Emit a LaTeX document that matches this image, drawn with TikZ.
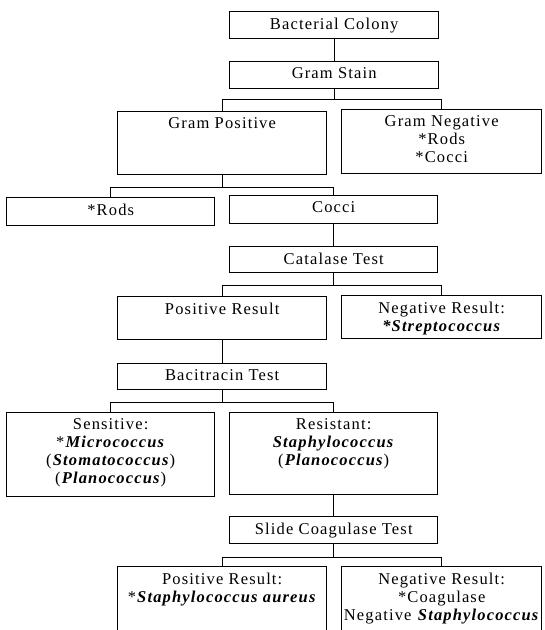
\documentclass[tikz,border=0pt]{standalone}
\usepackage{fontspec}
\setmainfont[LetterSpace=7]{Liberation Serif}
\newcommand\bxt[3]{\begin{minipage}[t][#2pt][t]{#1pt}\centering\vspace*{6pt}#3\end{minipage}}
\newcommand\gen[1]{\textbf{\textit{#1}}}
\newcommand\nl{\par}
\tikzset{
  bx/.style={draw, line width=1.4pt, inner sep=0pt, anchor=north west},
  ln/.style={draw, line width=1.4pt},
}
\begin{document}
\begin{tikzpicture}[x=1pt, y=-1pt, font=\fontsize{16.5}{18}\selectfont]
\useasboundingbox (0,0) rectangle (545,630);
\clip (0,0) rectangle (545,630);
\fill[white] (0,0) rectangle (545,630);
% boxes
\node[bx] (bc) at (229,11) {\bxt{209}{27}{Bacterial Colony}};
\node[bx] (gs) at (229,61) {\bxt{209}{27}{Gram Stain}};
\node[bx] (gp) at (117,111) {\bxt{209}{63}{Gram Positive}};
\node[bx] (gn) at (341,109) {\bxt{200}{64}{Gram Negative\nl *Rods\nl *Cocci}};
\node[bx] (rods) at (6,197) {\bxt{208}{28}{*Rods}};
\node[bx] (cocci) at (229,195) {\bxt{208}{28}{Cocci}};
\node[bx] (cat) at (229,246) {\bxt{208}{26}{Catalase Test}};
\node[bx] (pos) at (117,296) {\bxt{209}{43}{Positive Result}};
\node[bx] (neg) at (341,295) {\bxt{200}{43}{Negative Result:\nl \gen{*Streptococcus}}};
\node[bx] (bac) at (117,363) {\bxt{209}{26}{Bacitracin Test}};
\node[bx] (sens) at (6,412) {\bxt{208}{84}{Sensitive:\nl *\gen{Micrococcus}\nl (\gen{Stomatococcus})\nl (\gen{Planococcus})}};
\node[bx] (res) at (229,412) {\bxt{208}{82}{Resistant:\nl \gen{Staphylococcus}\nl (\gen{Planococcus})}};
\node[bx] (slide) at (229,516) {\bxt{208}{27}{Slide Coagulase Test}};
\node[bx] (spos) at (117,566) {\bxt{209}{90}{Positive Result:\nl *\gen{Staphylococcus aureus}}};
\node[bx] (sneg) at (341,566) {\bxt{200}{90}{Negative Result:\nl *Coagulase\nl Negative \gen{Staphylococcus}}};
% branch points
\path (gs.south) ++(0,10) coordinate (b1);
\path (gp.south) ++(0,12) coordinate (b2);
\path (cat.south) ++(0,12) coordinate (b3);
\path (bac.south) ++(0,12) coordinate (b4);
\path (slide.south) ++(0,13) coordinate (b5);
% connectors
\draw[ln] (bc.south) -- (gs.north);
\draw[ln] (gs.south) -- (b1);
\draw[ln] (gp.north) |- (b1) -| (gn.north);
\draw[ln] (gp.south) -- (b2);
\draw[ln] (rods.north) |- (b2) -| (cocci.north);
\draw[ln] (cocci.south) -- (cat.north);
\draw[ln] (cat.south) -- (b3);
\draw[ln] (pos.north) |- (b3) -| (neg.north);
\draw[ln] (pos.south) -- (bac.north);
\draw[ln] (bac.south) -- (b4);
\draw[ln] (sens.north) |- (b4) -| (res.north);
\draw[ln] (res.south) -- (slide.north);
\draw[ln] (slide.south) -- (b5);
\draw[ln] (spos.north) |- (b5) -| (sneg.north);
\end{tikzpicture}
\end{document}
